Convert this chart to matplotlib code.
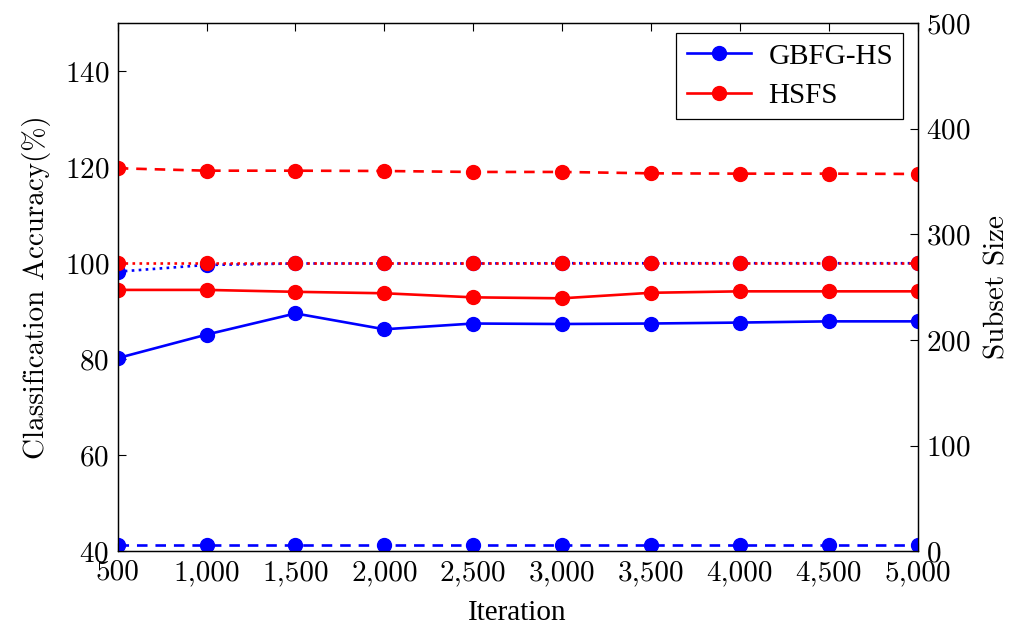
import numpy as np
import matplotlib.pyplot as plt

plt.rcParams['axes.formatter.use_mathtext'] = True
plt.rcParams['mathtext.fontset'] = 'cm'

iterations = [500, 1000, 1500, 2000, 2500, 3000, 3500, 4000, 4500, 5000]

# accuracy (left axis)
gbfg_acc = [80.2, 85.1, 89.5, 86.2, 87.4, 87.3, 87.4, 87.6, 87.85, 87.85]
hsfs_acc = [94.4, 94.4, 94.0, 93.7, 92.85, 92.65, 93.8, 94.1, 94.1, 94.1]
gbfg_train = [98.2, 99.6, 99.9, 99.9, 99.9, 99.95, 99.95, 99.95, 99.95, 99.95]
hsfs_train = [100, 100, 100, 100, 100, 100, 100, 100, 100, 100]

# subset size (right axis)
gbfg_size = [5.5, 5.5, 5.5, 5.5, 5.5, 5.5, 5.5, 5.5, 5.5, 5.5]
hsfs_size = [362.4, 360.1, 360.1, 359.8, 358.9, 358.9, 357.6, 357.3, 357.3, 357.0]

tick_font = {'family': 'cmr10', 'size': 21}

fig = plt.figure(figsize=(10.24, 6.35), dpi=100)
ax = fig.add_axes([0.115, 0.132, 0.781, 0.832])
ax2 = ax.twinx()

ms = 10
lw = 1.9
dash = (0, (4, 3))
ax.plot(iterations, gbfg_acc, color='blue', marker='o', ms=ms, lw=lw, label='GBFG-HS')
ax.plot(iterations, hsfs_acc, color='red', marker='o', ms=ms, lw=lw, label='HSFS')
ax.plot(iterations, gbfg_train, color='blue', marker='o', ms=ms, lw=lw, ls=':')
ax.plot(iterations, hsfs_train, color='red', marker='o', ms=ms, lw=lw, ls=':')
ax2.plot(iterations, gbfg_size, color='blue', marker='o', ms=ms, lw=lw, ls=dash)
ax2.plot(iterations, hsfs_size, color='red', marker='o', ms=ms, lw=lw, ls=dash)

ax.set_xlim(500, 5000)
ax.set_ylim(40, 150)
ax2.set_ylim(0, 500)
ax.set_xticks(iterations)
ax.set_xticklabels([f'{v:,}' for v in iterations])
ax.set_yticks([40, 60, 80, 100, 120, 140])
ax2.set_yticks([0, 100, 200, 300, 400, 500])

for a in (ax, ax2):
    a.tick_params(direction='in', length=6, width=0.8, pad=6)
    for lab in a.get_xticklabels() + a.get_yticklabels():
        lab.set_fontfamily('cmr10')
        lab.set_fontsize(21)
    for s in a.spines.values():
        s.set_linewidth(0.9)
ax.tick_params(top=True, right=False)

ax.set_xlabel('Iteration', fontfamily='Liberation Serif', fontsize=21, labelpad=10)
ax.set_ylabel('Classification Accuracy(%)', fontdict=tick_font, labelpad=10)
ax2.set_ylabel('Subset Size', fontdict=tick_font, labelpad=10)

leg = ax.legend(loc='upper right', prop={'family': 'Liberation Serif', 'size': 21},
                fancybox=False, edgecolor='black', framealpha=1,
                handlelength=2.2, borderpad=0.35, labelspacing=0.45,
                handletextpad=0.6, borderaxespad=0, bbox_to_anchor=(0.982, 0.981))
leg.get_frame().set_linewidth(0.9)

fig.savefig('out.png', dpi=100)
